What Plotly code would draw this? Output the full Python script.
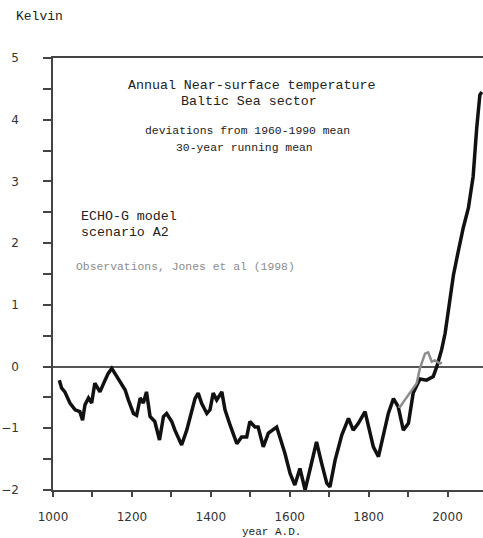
import plotly.graph_objects as go

# ECHO-G model, scenario A2 (30-year running mean, K, deviations from 1960-1990 mean)
model_years = [1016, 1022, 1030, 1043, 1056, 1068, 1075, 1081, 1090, 1098, 1106, 1119, 1132, 1140,
               1149, 1157, 1170, 1183, 1191, 1204, 1212, 1221, 1229, 1237, 1246, 1258, 1270, 1280,
               1288, 1301, 1309, 1326, 1339, 1351, 1360, 1368, 1377, 1390, 1398, 1406, 1415, 1428,
               1436, 1449, 1466, 1478, 1491, 1499, 1512, 1520, 1533, 1546, 1567, 1575, 1588, 1601,
               1613, 1626, 1639, 1651, 1668, 1681, 1694, 1702, 1715, 1732, 1749, 1761, 1774, 1791,
               1799, 1812, 1825, 1837, 1850, 1863, 1875, 1888, 1901, 1913, 1930, 1947, 1964, 1973,
               1985, 1994, 2002, 2015, 2027, 2040, 2053, 2065, 2074, 2082, 2087]
model_values = [-0.22, -0.35, -0.41, -0.59, -0.70, -0.73, -0.87, -0.62, -0.51, -0.59, -0.27, -0.41,
                -0.22, -0.11, -0.03, -0.11, -0.25, -0.38, -0.54, -0.76, -0.79, -0.51, -0.59, -0.41,
                -0.81, -0.89, -1.19, -0.81, -0.76, -0.89, -1.03, -1.27, -1.03, -0.73, -0.52, -0.43,
                -0.60, -0.76, -0.70, -0.43, -0.54, -0.41, -0.70, -0.95, -1.25, -1.14, -1.14, -0.89,
                -0.98, -0.98, -1.30, -1.08, -0.98, -1.14, -1.41, -1.73, -1.92, -1.65, -2.00, -1.68,
                -1.22, -1.57, -1.89, -1.95, -1.52, -1.11, -0.84, -1.03, -0.92, -0.73, -0.95, -1.30,
                -1.46, -1.14, -0.76, -0.52, -0.65, -1.03, -0.92, -0.43, -0.20, -0.22, -0.16, 0.00,
                0.27, 0.54, 0.92, 1.48, 1.86, 2.25, 2.57, 3.08, 3.86, 4.40, 4.45]

# Observations, Jones et al (1998)
obs_years = [1875, 1880, 1892, 1909, 1922, 1930, 1943, 1951, 1960, 1968, 1981, 1986]
obs_values = [-0.65, -0.65, -0.54, -0.38, -0.27, -0.03, 0.21, 0.23, 0.08, 0.10, 0.05, 0.07]

x_tickvals = [1000, 1200, 1400, 1600, 1800, 2000]
y_tickvals = [-2, -1, 0, 1, 2, 3, 4, 5]

MONO = "Liberation Mono"
AXIS_COLOR = "#444444"

fig = go.Figure()
fig.add_trace(go.Scatter(x=model_years, y=model_values, mode="lines",
                         line=dict(color="#111111", width=3.5), showlegend=False))
fig.add_trace(go.Scatter(x=obs_years, y=obs_values, mode="lines",
                         line=dict(color="#8c8c8c", width=2.5), showlegend=False))

def txt(x, y, s, size, color="#222222", anchor="center", xref="x", yref="y"):
    fig.add_annotation(x=x, y=y, xref=xref, yref=yref, text=s, showarrow=False,
                       xanchor=anchor, yanchor="middle",
                       font=dict(family=MONO, size=size, color=color))

txt(1502, 4.55, "Annual Near-surface temperature", 13.3)
txt(1497, 4.30, "Baltic Sea sector", 13.3)
txt(1493, 3.82, "deviations from 1960-1990 mean", 11.4)
txt(1486, 3.54, "30-year running mean", 11.4)
txt(1067, 2.43, "ECHO-G model", 13.3, anchor="left")
txt(1067, 2.17, "scenario A2", 13.3, anchor="left")
txt(1053, 1.62, "Observations, Jones et al (1998)", 11.4, color="#8c8c8c", anchor="left")
txt(-0.091, 1.097, "Kelvin", 13, anchor="left", xref="paper", yref="paper")
txt(0.509, -0.097, "year A.D.", 11, anchor="center", xref="paper", yref="paper")

fig.update_layout(
    width=483, height=538,
    margin=dict(l=53, r=0, t=58, b=48, autoexpand=False),
    paper_bgcolor="white", plot_bgcolor="white",
    xaxis=dict(range=[1000, 2090], tickvals=x_tickvals, ticktext=[str(v) for v in x_tickvals],
               automargin=False,
               showgrid=False, zeroline=False, showline=True, linecolor=AXIS_COLOR,
               linewidth=1.5, mirror=True, ticks="outside", ticklen=5, tickwidth=1.5,
               tickcolor=AXIS_COLOR, ticklabelstandoff=10,
               minor=dict(dtick=100, tick0=1000, ticks="outside", ticklen=5, tickwidth=1.5,
                          tickcolor=AXIS_COLOR, showgrid=False),
               tickfont=dict(family="DejaVu Sans", size=12, color="#333333")),
    yaxis=dict(range=[-2, 5], tickvals=y_tickvals, showgrid=False, automargin=False,
               zeroline=True, zerolinecolor="#555555", zerolinewidth=1.5,
               showline=True, linecolor=AXIS_COLOR, linewidth=1.5, mirror=False,
               ticks="outside", ticklen=8, tickwidth=1.5, tickcolor=AXIS_COLOR,
               ticklabelstandoff=22,
               minor=dict(dtick=0.5, tick0=0, ticks="outside", ticklen=8, tickwidth=1.5,
                          tickcolor=AXIS_COLOR, showgrid=False),
               tickfont=dict(family="DejaVu Sans", size=12, color="#333333")),
)

fig.write_html(
    "out.html",
    config={"displayModeBar": False},
    post_script="document.body.style.margin='0';document.body.style.overflow='hidden';",
)
